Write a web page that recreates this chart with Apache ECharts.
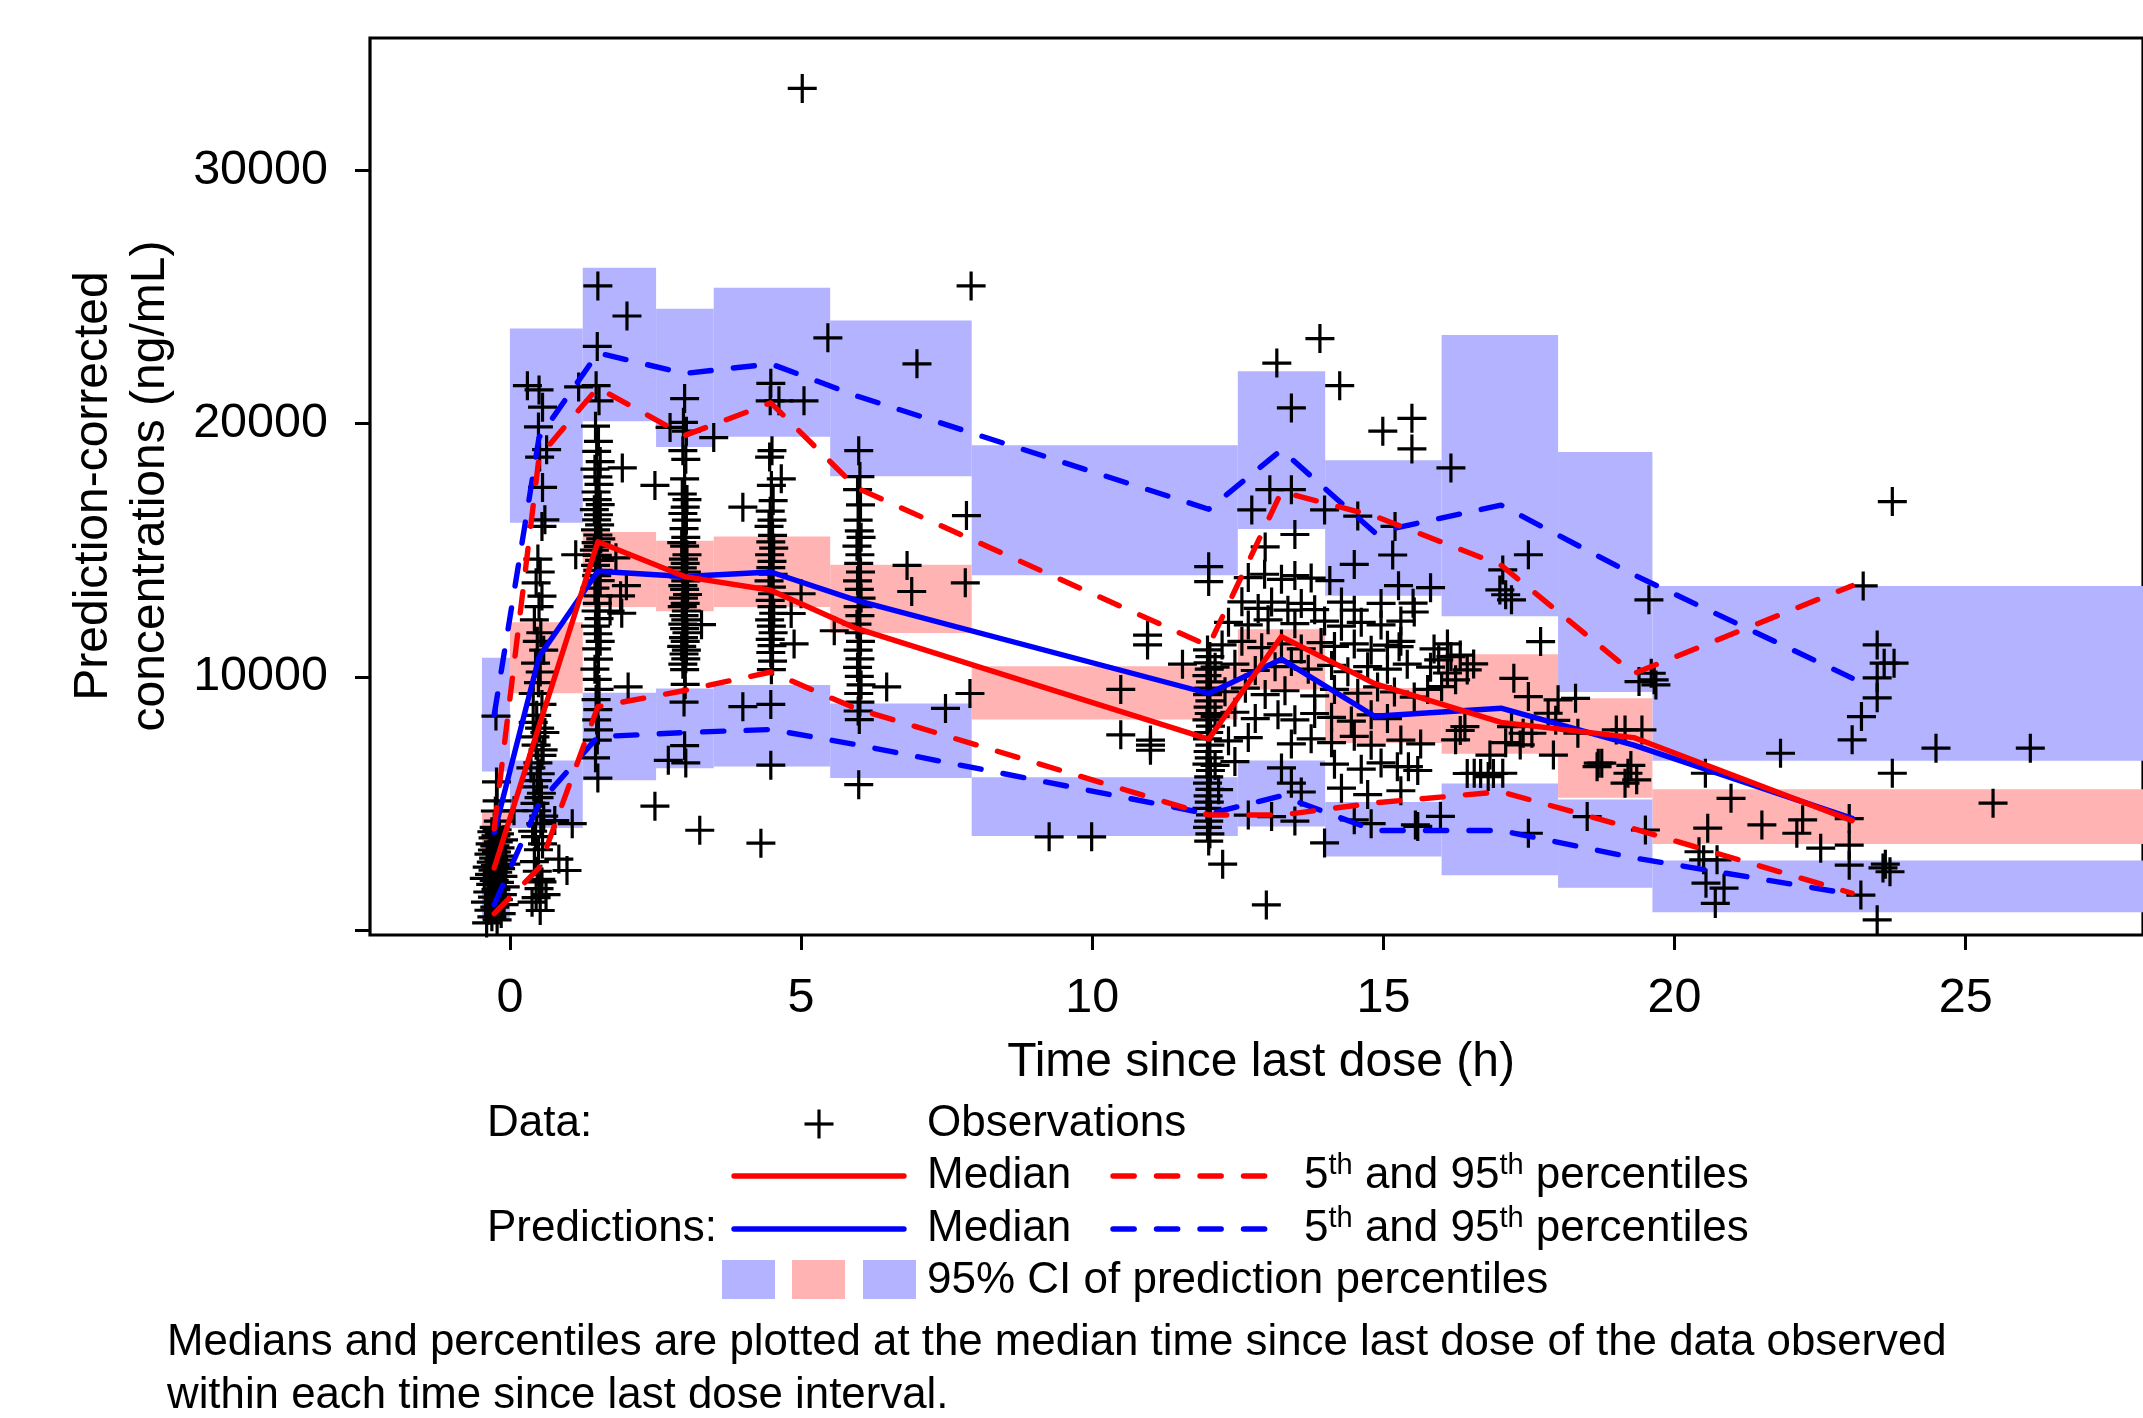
<!DOCTYPE html>
<html><head><meta charset="utf-8">
<script src="https://cdn.jsdelivr.net/npm/echarts@6/dist/echarts.min.js"></script>
<style>html,body{margin:0;padding:0;background:#fff}#c{width:2143px;height:1418px}</style>
</head><body><div id="c"></div><script>
// ---------- tick labels ----------
const xTicks = [0, 5, 10, 15, 20, 25];
const yTicks = [0, 10000, 20000, 30000];
const yTickLabels = [10000, 20000, 30000];

// ---------- VPC bins (time since last dose) ----------
const binStart = [-0.48, 0.0, 1.25, 2.51, 3.50, 5.50, 7.93, 12.50, 14.0, 16.0, 18.0, 19.62];
const binEnd   = [0.0, 1.25, 2.51, 3.50, 5.50, 7.93, 12.50, 14.0, 16.0, 18.0, 19.62, 28.5];
// 95% CI of predicted 95th percentile
const ciP95Low  = [6255, 16080, 20090, 19080, 19480, 17920, 14010, 15840, 13200, 12390, 9400, 6680];
const ciP95High = [10750, 23760, 26160, 24540, 25370, 24070, 19150, 22070, 18550, 23500, 18875, 13590];
// 95% CI of predicted median
const ciMedLow  = [3000, 9350, 12760, 12590, 12760, 11730, 8310, 9500, 7390, 6960, 5220, 3400];
const ciMedHigh = [4750, 12150, 15720, 15370, 15540, 14425, 10420, 11880, 9560, 10890, 9150, 5560];
// 95% CI of predicted 5th percentile
const ciP5Low  = [400, 4030, 5910, 6390, 6460, 6000, 3710, 4090, 2900, 2160, 1670, 700];
const ciP5High = [1700, 6690, 9370, 9540, 9680, 8950, 6030, 6690, 5060, 5790, 5150, 2740];

// ---------- percentile lines (plotted at median time of each bin) ----------
const binTimes   = [-0.27, 0.5, 1.51, 3.0, 4.48, 5.95, 12.0, 13.25, 14.85, 17.02, 19.3, 23.05];
const obsMedian  = [2450, 8050, 15330, 13960, 13420, 11910, 7540, 11590, 9730, 8200, 7600, 4320];
const obsP5      = [650, 2450, 8820, 9460, 10190, 8740, 4540, 4540, 5020, 5460, 4000, 1450];
const obsP95     = [4000, 18680, 21420, 19530, 20820, 17470, 11220, 17310, 16350, 14410, 10130, 13600];
const predMedian = [3850, 10790, 14170, 13960, 14140, 13020, 9340, 10700, 8440, 8760, 7300, 4410];
const predP5     = [1000, 5000, 7630, 7800, 7920, 7320, 4580, 5300, 3930, 3930, 2850, 1410];
const predP95    = [8500, 19450, 22790, 21980, 22360, 21100, 16620, 18960, 15700, 16780, 14030, 9950];

// ---------- observations [time, prediction-corrected conc] ----------
const obsPredose = [[-0.40,280],[-0.22,400],[-0.31,520],[-0.15,650],[-0.36,780],[-0.26,900],[-0.10,1000],[-0.42,1100],[-0.20,1200],[-0.30,1300],[-0.13,1400],[-0.38,1500],[-0.24,1600],[-0.08,1700],[-0.33,1800],[-0.18,1880],[-0.27,1960],[-0.44,2040],[-0.12,2120],[-0.35,2200],[-0.21,2280],[-0.29,2360],[-0.16,2420],[-0.39,2480],[-0.25,2540],[-0.07,2600],[-0.32,2680],[-0.19,2760],[-0.28,2840],[-0.14,2920],[-0.36,3000],[-0.23,3080],[-0.30,3160],[-0.17,3240],[-0.26,3320],[-0.34,3400],[-0.20,3480],[-0.11,3560],[-0.29,3640],[-0.24,3720],[-0.18,3800],[-0.31,3880],[-0.22,3960],[-0.27,4050],[-0.20,4300],[-0.25,4700],[0.07,4710],[-0.22,5100],[-0.23,5850],[-0.24,8450]];
const obsAbsorb = [[0.50,21330],[0.56,20650],[0.49,19870],[0.51,18680],[0.56,17480],[0.55,15940],[0.48,14650],[0.52,14140],[0.45,13710],[0.55,13190],[0.50,12770],[0.42,12250],[0.53,11740],[0.47,11400],[0.58,11050],[0.44,10540],[0.52,10190],[0.49,9770],[0.40,9340],[0.55,8910],[0.46,8480],[0.51,7970],[0.43,7630],[0.57,7110],[0.48,6600],[0.52,6170],[0.41,5650],[0.50,5230],[0.46,4710],[0.53,4200],[0.44,3690],[0.49,3170],[0.47,2320],[0.50,1630],[0.45,1280],[0.52,770],[0.38,1100],[0.55,1900],[0.42,2700],[0.56,3400],[0.39,3900],[0.58,4500],[0.43,5000],[0.54,5400],[0.47,5900],[0.36,6400],[0.55,6900],[0.45,7300],[0.60,7800],[0.40,8200],[0.53,2000],[0.62,1400],[0.77,4320],[0.98,2350],[1.07,4200],[0.84,2800],[1.18,21450],[1.13,14820],[0.30,21500],[0.63,18970],[0.60,16200]];
const obsPeak = [[1.51,25440],[1.50,23050],[1.48,21500],[1.53,20900],[1.47,19900],[1.52,19300],[1.49,18900],[1.55,18500],[1.46,18200],[1.51,17900],[1.53,17600],[1.48,17300],[1.50,17000],[1.55,16800],[1.45,16600],[1.52,16400],[1.49,16200],[1.54,16000],[1.47,15800],[1.51,15600],[1.56,15450],[1.48,15300],[1.52,15150],[1.45,15000],[1.50,14800],[1.54,14600],[1.47,14400],[1.51,14200],[1.49,14000],[1.55,13800],[1.46,13500],[1.52,13200],[1.50,12900],[1.48,12600],[1.53,12300],[1.47,12000],[1.51,11700],[1.55,11400],[1.49,11100],[1.52,10700],[1.46,10300],[1.50,9900],[1.53,9500],[1.48,9100],[1.51,8700],[1.49,8300],[1.52,7900],[1.50,7500],[1.47,6800],[1.51,6000],[2.01,24250],[1.93,18250],[2.00,13600],[2.03,9600],[1.82,14700],[1.90,13200],[1.72,12600],[1.92,12510]];
const obs3h = [[3.00,20990],[2.98,20050],[3.03,19700],[2.97,18930],[3.02,18590],[3.00,17820],[2.96,17220],[3.04,17000],[3.01,16700],[2.97,16450],[3.03,16190],[2.99,15850],[3.02,15510],[2.95,15300],[3.00,15160],[3.04,14820],[2.98,14650],[3.01,14480],[2.96,14300],[3.03,14140],[2.99,13950],[3.02,13790],[2.97,13600],[3.00,13450],[3.05,13250],[2.98,13110],[3.01,12900],[2.96,12770],[3.03,12600],[2.99,12420],[3.02,12250],[2.97,12080],[3.00,11900],[3.04,11740],[2.98,11550],[3.01,11400],[2.95,11200],[3.03,11050],[2.99,10900],[3.02,10710],[2.97,10500],[3.00,10280],[3.01,9700],[2.99,9000],[3.00,7280],[3.02,6600],[2.75,19850],[3.50,19450],[2.49,17560],[2.72,6700],[2.49,4890],[3.26,3940],[3.29,12060],[4.00,8820],[4.00,16700],[4.31,3430]];
const obs45h = [[4.48,21590],[4.47,20900],[4.50,18930],[4.46,18680],[4.49,17560],[4.52,16960],[4.47,16540],[4.50,16190],[4.45,15940],[4.51,15590],[4.48,15330],[4.53,15080],[4.46,14820],[4.50,14560],[4.48,14310],[4.52,14050],[4.45,13790],[4.49,13540],[4.51,13280],[4.47,13020],[4.50,12770],[4.53,12510],[4.46,12250],[4.49,12000],[4.52,11740],[4.47,11480],[4.50,11230],[4.48,10960],[4.51,10620],[4.49,10280],[4.48,8910],[4.48,6510],[4.62,20900],[5.05,20900],[4.66,17820],[4.83,12500],[4.88,11300],[5.00,13280],[5.46,23390]];
const obs6h = [[5.99,18930],[6.01,17910],[5.97,17390],[6.02,16790],[5.98,16190],[6.00,15760],[6.03,15510],[5.96,15160],[6.01,14820],[5.99,14480],[6.02,14140],[5.97,13790],[6.00,13450],[6.03,13110],[5.98,12770],[6.01,12420],[5.96,12080],[6.00,11740],[6.02,11400],[5.98,11050],[6.01,10710],[5.97,10370],[6.00,10020],[6.03,9680],[5.99,9340],[6.01,9000],[5.98,8650],[6.00,8310],[5.99,5740],[5.57,11820],[6.47,9600],[6.82,14400],[6.90,13370],[6.99,22360],[7.82,13710],[7.84,16370],[7.92,25440],[7.90,9340],[7.48,8750]];
const obsMid = [[9.26,3680],[9.99,3680],[10.49,9500],[10.49,7710],[10.95,11650],[10.95,11260],[11.00,7500],[11.00,7300],[11.00,7100],[11.55,10500],[5.02,33240]];
const obs12h = [[12.00,14350],[12.00,13760],[11.98,11060],[12.02,10800],[11.99,10550],[12.01,10300],[11.97,10050],[12.03,9800],[12.00,9550],[11.98,9300],[12.02,9050],[11.99,8800],[12.01,8550],[11.97,8300],[12.03,8050],[12.00,7800],[11.98,7550],[12.02,7300],[11.99,7050],[12.01,6800],[11.97,6550],[12.03,6300],[12.00,6050],[11.98,5800],[12.02,5550],[11.99,5300],[12.01,5050],[11.97,4800],[12.03,4550],[12.00,4300],[11.98,4050],[12.02,3800],[12.00,3510],[12.24,2600]];
const obsCloud = [[13.05,17390],[13.42,17390],[12.74,16590],[13.99,16590],[14.56,16350],[15.20,15940],[13.48,15620],[12.97,15130],[15.16,14810],[14.50,14440],[12.68,13920],[12.96,14050],[13.25,13850],[13.48,14000],[13.76,13900],[14.08,13800],[15.26,13600],[15.81,13520],[12.57,12960],[12.85,12700],[13.08,12950],[13.36,12630],[13.59,12900],[13.82,12650],[14.28,12950],[14.50,12630],[14.96,12900],[15.53,12560],[12.34,12150],[12.68,12050],[13.02,12250],[13.48,12100],[13.99,12200],[14.28,12000],[14.62,12150],[14.96,12050],[15.30,12200],[12.23,11260],[12.57,11400],[12.91,11150],[13.25,11300],[13.59,11100],[13.93,11350],[14.16,11200],[14.50,11300],[14.79,11050],[15.07,11250],[15.30,11400],[15.87,11100],[16.10,11300],[16.32,10860],[12.11,10380],[12.45,10500],[12.80,10250],[13.14,10400],[13.42,10600],[13.71,10300],[14.11,10450],[14.39,10200],[14.73,10400],[15.07,10300],[15.41,10500],[15.81,10380],[16.10,10150],[12.28,9410],[12.63,9550],[12.97,9300],[13.31,9450],[13.82,9250],[14.16,9500],[14.56,9350],[14.90,9600],[15.19,9400],[15.53,9200],[15.76,9500],[12.11,8440],[12.45,8600],[12.80,8350],[13.19,8500],[13.48,8300],[13.82,8550],[14.11,8400],[14.45,8250],[14.79,8500],[15.07,8350],[12.34,7470],[12.68,7600],[13.42,7350],[13.76,7550],[14.11,7400],[14.50,7650],[14.79,7300],[15.30,7500],[15.64,7350],[12.11,6500],[12.45,6650],[13.25,6400],[14.16,6550],[14.62,6350],[14.96,6600],[15.24,6450],[15.59,6300],[12.17,5540],[13.42,5800],[13.59,5450],[14.28,5600],[14.73,5350],[15.30,5500],[12.68,4540],[13.08,4480],[13.48,4300],[14.50,4350],[14.79,4200],[15.59,4090],[15.98,4490],[13.99,3440],[12.99,990],[13.17,22390],[13.91,23360],[14.25,21500],[13.42,20620],[14.99,19700],[15.49,20210],[15.49,19000]];
const obsLate = [[16.16,18250],[17.05,14220],[17.49,14820],[17.00,13430],[17.10,13240],[17.20,13040],[17.70,11390],[15.51,12910],[15.27,11190],[15.95,10670],[16.16,10800],[16.44,10270],[16.24,9880],[16.00,9610],[17.24,9940],[17.49,9220],[18.00,9090],[18.30,9150],[17.83,8560],[17.96,8280],[16.40,8030],[17.20,8030],[17.40,7770],[17.55,7770],[19.00,7900],[19.15,7900],[19.44,7900],[18.34,7770],[16.24,7510],[16.32,7880],[17.10,7400],[17.35,7310],[17.92,6910],[16.83,6910],[18.69,6590],[18.75,6590],[18.67,6450],[16.44,6180],[16.67,6180],[16.89,6180],[16.56,6190],[16.80,6060],[17.05,6190],[19.20,6190],[19.35,5930],[19.15,5800],[19.25,6500],[15.55,4150],[17.49,3820],[18.50,4480],[19.50,3950],[16.55,10510],[19.56,13040],[19.39,9810],[19.60,10140],[19.65,9880],[19.68,9680],[15.43,6450]];
const obsTail = [[20.53,6190],[20.97,5200],[20.57,4020],[21.50,4150],[22.20,4350],[22.10,3820],[22.51,3230],[23.00,4400],[23.00,3350],[23.00,2560],[23.20,1380],[23.48,400],[23.62,2600],[23.70,2300],[23.58,2450],[20.42,3090],[20.50,2770],[20.73,2770],[20.54,1850],[20.85,1650],[20.70,1050],[21.82,6980],[23.05,7510],[23.21,8430],[23.48,11260],[23.60,10540],[23.48,9960],[23.48,9170],[23.77,10540],[23.24,13590],[23.74,16920],[23.74,6190],[24.49,7180],[26.11,7180],[25.47,5010]];

const observations = [].concat(obsPredose, obsAbsorb, obsPeak, obs3h, obs45h, obs6h, obsMid, obs12h, obsCloud, obsLate, obsTail);

// ---------- styling ----------
const FONT = '"Liberation Sans", Arial, Helvetica, sans-serif';
const BLUE_BAND = '#B3B3FF', PINK_BAND = '#FFB3B3';
const BLUE = '#0000FF', RED = '#FF0000';
const LW = 5.4;
const DASH = [21.2, 22.3];
const CROSS = 'path://M0,-14.5L0,14.5M-14.5,0L14.5,0';

function bandData(lo, hi) {
  return binStart.map((s, i) => [s, binEnd[i], lo[i], hi[i]]);
}
function bandSeries(lo, hi, color) {
  return {
    type: 'custom', z: 1, silent: true, clip: true,
    encode: { x: [0, 1], y: [2, 3] },
    data: bandData(lo, hi),
    renderItem: function (params, api) {
      const p0 = api.coord([api.value(0), api.value(3)]);
      const p1 = api.coord([api.value(1), api.value(2)]);
      return { type: 'rect', shape: { x: p0[0], y: p0[1], width: p1[0] - p0[0], height: p1[1] - p0[1] },
               style: { fill: color } };
    }
  };
}
function lineSeries(vals, color, dashed, z) {
  return {
    type: 'line', z: z, silent: true, symbol: 'none', animation: false,
    data: binTimes.map((t, i) => [t, vals[i]]),
    lineStyle: { color: color, width: LW, type: dashed ? DASH : 'solid', cap: 'round', join: 'round' }
  };
}

const chart = echarts.init(document.getElementById('c'), null, { renderer: 'canvas' });

const legendY1 = 1124, legendY2 = 1176, legendY3 = 1229, legendY4 = 1281;
const txt = (x, y, text, size, extra) => Object.assign({
  type: 'text', x: x, y: y, silent: true,
  style: { text: text, font: size + 'px ' + FONT, fill: '#000', textAlign: 'left', textVerticalAlign: 'middle' }
}, extra || {});
const supRich = {
  a: { fontSize: 44, fontFamily: FONT, fill: '#000', color: '#000', lineHeight: 50 },
  s: { fontSize: 29, fontFamily: FONT, fill: '#000', color: '#000', lineHeight: 22, verticalAlign: 'top' }
};
const pctText = (x, y) => ({
  type: 'text', x: x, y: y, silent: true,
  style: { text: '{a|5}{s|th}{a| and 95}{s|th}{a| percentiles}', rich: supRich, font: '44px ' + FONT,
           fill: '#000', textAlign: 'left', textVerticalAlign: 'middle' }
});
const hline = (x1, x2, y, color, dashed) => ({
  type: 'line', silent: true, shape: { x1: x1, y1: y, x2: x2, y2: y },
  style: { stroke: color, lineWidth: LW, lineCap: 'round', lineDash: dashed ? DASH : null }
});

const option = {
  animation: false,
  backgroundColor: '#fff',
  grid: { left: 370, right: -10, top: 38, bottom: 483, show: true, borderColor: '#000', borderWidth: 3.2, backgroundColor: 'rgba(0,0,0,0)' },
  xAxis: {
    type: 'value', min: -2.403, max: 28.045,
    axisLine: { show: false, onZero: false },
    splitLine: { show: false },
    axisTick: { show: true, length: 15, lineStyle: { color: '#000', width: 3 }, customValues: xTicks },
    axisLabel: { customValues: xTicks, fontSize: 48.5, fontFamily: FONT, color: '#000', margin: 39,
                 formatter: v => String(v) }
  },
  yAxis: {
    type: 'value', min: -198, max: 35231,
    axisLine: { show: false, onZero: false },
    splitLine: { show: false },
    axisTick: { show: true, length: 15, lineStyle: { color: '#000', width: 3 }, customValues: yTicks },
    axisLabel: { customValues: yTickLabels, fontSize: 48.5, fontFamily: FONT, color: '#000', margin: 42,
                 formatter: v => String(v) }
  },
  series: [
    bandSeries(ciP95Low, ciP95High, BLUE_BAND),
    bandSeries(ciMedLow, ciMedHigh, PINK_BAND),
    bandSeries(ciP5Low, ciP5High, BLUE_BAND),
    {
      type: 'scatter', z: 2, silent: true, data: observations,
      symbol: CROSS, symbolSize: 29,
      itemStyle: { color: 'rgba(0,0,0,0)', borderColor: '#000', borderWidth: 3.2, opacity: 1 }
    },
    lineSeries(predP95, BLUE, true, 3),
    lineSeries(predP5, BLUE, true, 3),
    lineSeries(predMedian, BLUE, false, 3),
    lineSeries(obsP95, RED, true, 4),
    lineSeries(obsP5, RED, true, 4),
    lineSeries(obsMedian, RED, false, 4)
  ],
  graphic: { elements: [
    // axis titles
    txt(1261, 1063, 'Time since last dose (h)', 48, { style: { text: 'Time since last dose (h)', font: '48px ' + FONT, fill: '#000', textAlign: 'center', textVerticalAlign: 'middle' } }),
    { type: 'text', x: 94, y: 486, rotation: Math.PI / 2, silent: true,
      style: { text: 'Prediction-corrected', font: '48px ' + FONT, fill: '#000', textAlign: 'center', textVerticalAlign: 'middle' } },
    { type: 'text', x: 151, y: 486, rotation: Math.PI / 2, silent: true,
      style: { text: 'concentrations (ng/mL)', font: '48px ' + FONT, fill: '#000', textAlign: 'center', textVerticalAlign: 'middle' } },
    // legend
    txt(487, legendY1, 'Data:', 44),
    { type: 'line', silent: true, shape: { x1: 819, y1: legendY1 - 14.5, x2: 819, y2: legendY1 + 14.5 }, style: { stroke: '#000', lineWidth: 3.2 } },
    { type: 'line', silent: true, shape: { x1: 804.5, y1: legendY1, x2: 833.5, y2: legendY1 }, style: { stroke: '#000', lineWidth: 3.2 } },
    txt(927, legendY1, 'Observations', 44),
    hline(734, 904, legendY2, RED, false),
    txt(927, legendY2, 'Median', 44),
    hline(1113, 1266, legendY2, RED, true),
    pctText(1304, legendY2),
    txt(487, legendY3, 'Predictions:', 44),
    hline(734, 904, legendY3, BLUE, false),
    txt(927, legendY3, 'Median', 44),
    hline(1113, 1266, legendY3, BLUE, true),
    pctText(1304, legendY3),
    { type: 'rect', silent: true, shape: { x: 722, y: 1260, width: 53, height: 39 }, style: { fill: BLUE_BAND } },
    { type: 'rect', silent: true, shape: { x: 792, y: 1260, width: 53, height: 39 }, style: { fill: PINK_BAND } },
    { type: 'rect', silent: true, shape: { x: 863, y: 1260, width: 53, height: 39 }, style: { fill: BLUE_BAND } },
    txt(927, legendY4, '95% CI of prediction percentiles', 44),
    // footnote
    txt(167, 1343, 'Medians and percentiles are plotted at the median time since last dose of the data observed', 43.8),
    txt(167, 1396, 'within each time since last dose interval.', 43.8)
  ] }
};
chart.setOption(option);
</script></body></html>
